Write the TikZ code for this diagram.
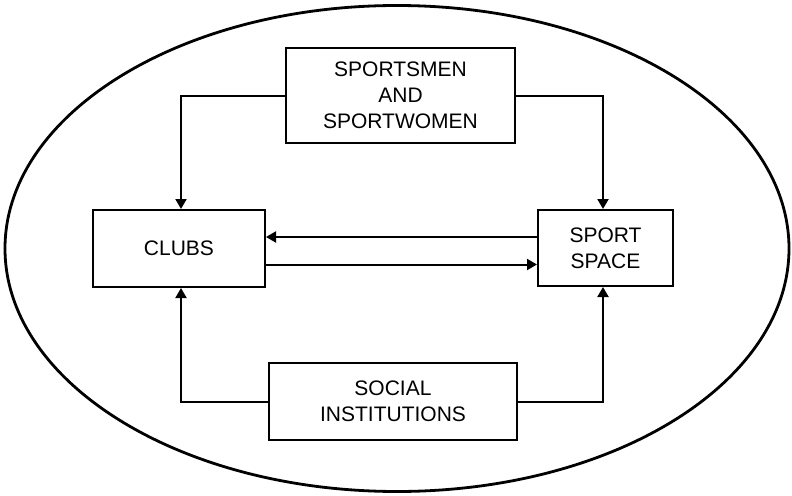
\documentclass[tikz,border=0pt]{standalone}
\usepackage{fontspec}
\setmainfont{Liberation Sans}
\usetikzlibrary{arrows.meta}
\begin{document}
\begin{tikzpicture}[x=1pt,y=-1pt,
  box/.style={draw,line width=2pt,align=center,inner sep=0pt,
    font=\fontsize{21}{26}\selectfont},
  arr/.style={line width=2pt,-{Triangle[length=10pt,width=11pt]}}]
\useasboundingbox (0,0) rectangle (792,495);
\draw[line width=2.8pt] (397,248.5) ellipse [x radius=392, y radius=243];
\node[box,minimum width=229pt,minimum height=95pt] (top) at (400.5,95.5) {SPORTSMEN\\AND\\SPORTWOMEN};
\node[box,minimum width=172pt,minimum height=77pt] (clubs) at (179,248.5) {CLUBS};
\node[box,minimum width=135pt,minimum height=76pt] (space) at (605.5,248) {SPORT\\SPACE};
\node[box,minimum width=248pt,minimum height=77pt] (social) at (393,401.5) {SOCIAL\\INSTITUTIONS};
\coordinate (lx) at (181,0);
\coordinate (rx) at (603,0);
\draw[arr] (top.west) -| (lx |- clubs.north);
\draw[arr] (top.east) -| (rx |- space.north);
\draw[arr] (social.west) -| (lx |- clubs.south);
\draw[arr] (social.east) -| (rx |- space.south);
\coordinate (ya) at (0,237);
\coordinate (yb) at (0,264.5);
\draw[arr] (space.west |- ya) -- (clubs.east |- ya);
\draw[arr] (clubs.east |- yb) -- (space.west |- yb);
\end{tikzpicture}
\end{document}
